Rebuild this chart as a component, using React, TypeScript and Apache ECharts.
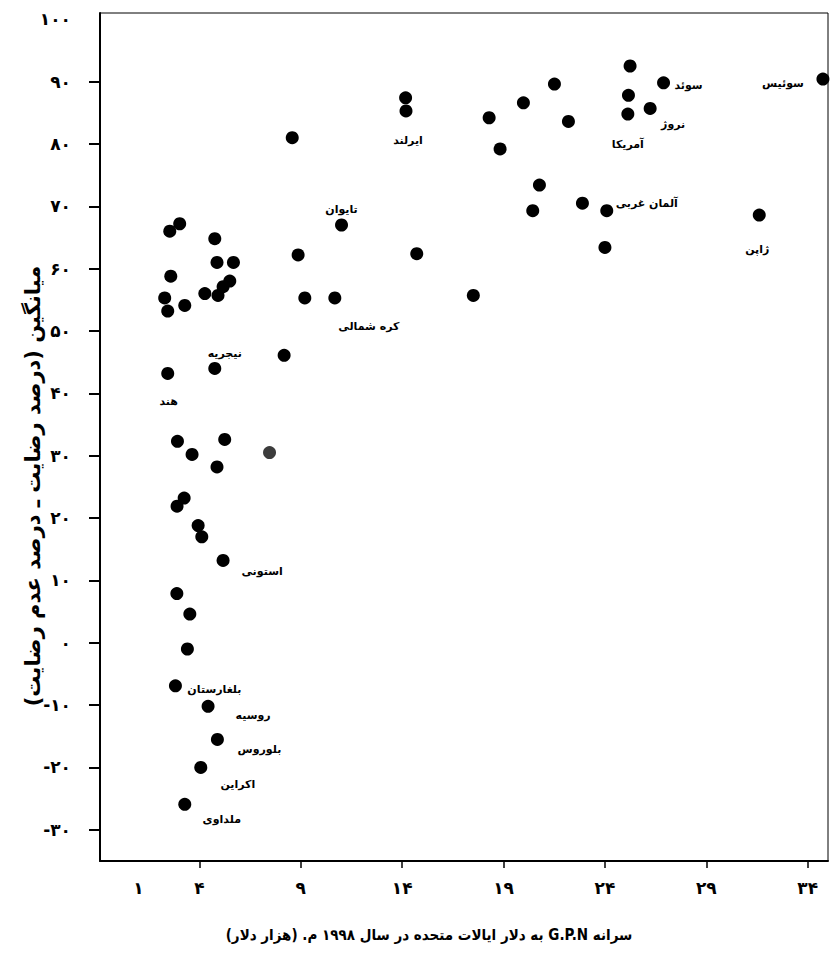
import React, { useEffect, useRef } from "react";
import * as echarts from "echarts";

// GNP per capita (thousand US$, 1998) and mean satisfaction (% satisfied - % dissatisfied)
const gnpPerCapita = [
  3.03, 2.54, 4.76, 4.87, 5.68, 2.59, 5.5, 5.17, 4.92, 4.27, 2.29, 3.28, 2.44,
  11.01, 8.87, 9.2, 10.68, 8.18, 4.76, 2.44, 2.92, 5.25, 3.64, 4.87, 7.46, 3.25,
  2.9, 3.94, 4.12, 5.17, 2.89, 3.53, 3.41, 2.82, 4.43, 4.89, 4.07, 3.28, 8.58,
  14.17, 14.19, 14.72, 25.24, 26.89, 34.75, 21.51, 19.98, 25.16, 26.23, 25.13,
  18.29, 22.2, 18.83, 20.77, 22.89, 20.44, 24.09, 31.61, 24.0, 17.51,
];
const satisfaction = [
  67.2, 66.0, 64.8, 61.0, 61.0, 58.8, 58.0, 57.1, 55.7, 56.0, 55.3, 54.1, 53.2,
  67.0, 62.2, 55.3, 55.3, 46.1, 44.0, 43.2, 32.3, 32.6, 30.2, 28.2, 30.5, 23.2,
  21.9, 18.8, 17.0, 13.2, 7.9, 4.6, -1.0, -6.9, -10.2, -15.5, -20.0, -25.9, 81.0,
  87.4, 85.3, 62.4, 92.5, 89.8, 90.4, 89.6, 86.6, 87.8, 85.7, 84.8, 84.2, 83.6,
  79.2, 73.4, 70.5, 69.3, 69.3, 68.6, 63.4, 55.7,
];
const countryNames = [
  "", "", "", "", "", "", "", "", "", "", "", "", "",
  "تایوان", "", "", "کره شمالی", "", "نیجریه", "هند", "", "", "", "", "", "",
  "", "", "", "استونی", "", "", "", "بلغارستان", "روسیه", "بلوروس", "اکراین", "ملداوی", "",
  "", "ایرلند", "", "", "سوئد", "سوئیس", "", "", "", "نروژ", "آمریکا",
  "", "", "", "", "", "", "آلمان غربی", "ژاپن", "", "",
];

const xTickValues = [4, 9, 14, 19, 24, 29, 34];
const xLabelValues = [1, 4, 9, 14, 19, 24, 29, 34];
const yTickValues = [-30, -20, -10, 0, 10, 20, 30, 40, 50, 60, 70, 80, 90, 100];

const xAxisTitle = "سرانه G.P.N به دلار ایالات متحده در سال ۱۹۹۸ م. (هزار دلار)";
const yAxisTitle = "میانگین (درصد رضایت ـ درصد عدم رضایت)";

// label placement (pixel offsets from the point centre)
const labelOffsets: Record<string, [number, number]> = {
  "تایوان": [0, -16],
  "کره شمالی": [34, 29],
  "نیجریه": [10, -15],
  "هند": [1, 28],
  "استونی": [39, 11],
  "بلغارستان": [39, 4],
  "روسیه": [45, 9],
  "بلوروس": [42, 10],
  "اکراین": [37, 17],
  "ملداوی": [37, 15],
  "ایرلند": [2, 30],
  "سوئد": [25, 3],
  "سوئیس": [-40, 4],
  "نروژ": [23, 16],
  "آمریکا": [0, 30],
  "آلمان غربی": [40, -7],
  "ژاپن": [-2, 34],
};
const greyPointIndex = 24;

const persianDigits = "۰۱۲۳۴۵۶۷۸۹";
const toPersian = (v: number) => {
  const s = String(Math.abs(v)).replace(/\d/g, (d) => persianDigits[Number(d)]);
  return v < 0 ? "-" + s : s;
};
const rtl = (s: string) => "\u202B" + s + "\u202C";

export default function App() {
  const ref = useRef<HTMLDivElement>(null);
  useEffect(() => {
    if (!ref.current) return;
    const chart = echarts.init(ref.current, undefined, { renderer: "svg" });
    const data = gnpPerCapita.map((x, i) => {
      const name = countryNames[i];
      const item: any = { value: [x, satisfaction[i]], name };
      if (i === greyPointIndex) item.itemStyle = { color: "#3c3c3c" };
      if (name) {
        item.label = {
          show: true,
          position: "inside",
          offset: labelOffsets[name] || [0, 0],
          formatter: name,
        };
      }
      return item;
    });
    chart.setOption({
      animation: false,
      backgroundColor: "#ffffff",
      textStyle: { fontFamily: "DejaVu Sans", color: "#000" },
      grid: {
        left: 100,
        right: 3,
        top: 13,
        bottom: 97,
        show: true,
        borderColor: "#000",
        borderWidth: 1,
      },
      xAxis: {
        type: "value",
        min: -0.9,
        max: 35,
        name: rtl(xAxisTitle),
        nameLocation: "middle",
        nameGap: 66,
        nameTextStyle: {
          fontSize: 15,
          fontWeight: "bold",
          fontFamily: "DejaVu Sans Condensed",
          color: "#000",
          padding: [0, 70, 0, 0],
        },
        axisLine: { onZero: false, lineStyle: { color: "#000", width: 2 } },
        axisTick: {
          customValues: xTickValues,
          length: 7,
          lineStyle: { color: "#000", width: 1.5 },
        },
        axisLabel: {
          customValues: xLabelValues,
          formatter: (v: number) => toPersian(v),
          fontSize: 17,
          fontWeight: "bold",
          color: "#000",
          margin: 18,
        },
        splitLine: { show: false },
      },
      yAxis: {
        type: "value",
        min: -35,
        max: 101,
        name: rtl(yAxisTitle),
        nameLocation: "middle",
        nameGap: 57,
        nameMoveOverlap: false,
        nameTextStyle: {
          fontSize: 21,
          fontWeight: "bold",
          color: "#000",
          padding: [0, 98, 0, 0],
        },
        axisLine: { onZero: false, lineStyle: { color: "#000", width: 2 } },
        axisTick: {
          customValues: yTickValues.filter((v) => v !== 100),
          length: 11,
          lineStyle: { color: "#000", width: 2 },
        },
        axisLabel: {
          customValues: yTickValues,
          formatter: (v: number) => toPersian(v),
          fontSize: 17,
          fontWeight: "bold",
          color: "#000",
          margin: 29,
        },
        splitLine: { show: false },
      },
      series: [
        {
          type: "scatter",
          symbol: "circle",
          symbolSize: 13,
          itemStyle: { color: "#000", opacity: 1 },
          label: {
            show: false,
            fontSize: 11,
            fontWeight: "bold",
            color: "#000",
          },
          emphasis: { disabled: true },
          data,
        },
      ],
    });
    return () => chart.dispose();
  }, []);
  return (
    <div
      ref={ref}
      style={{ position: "absolute", left: 0, top: 0, width: 831, height: 958 }}
    />
  );
}
